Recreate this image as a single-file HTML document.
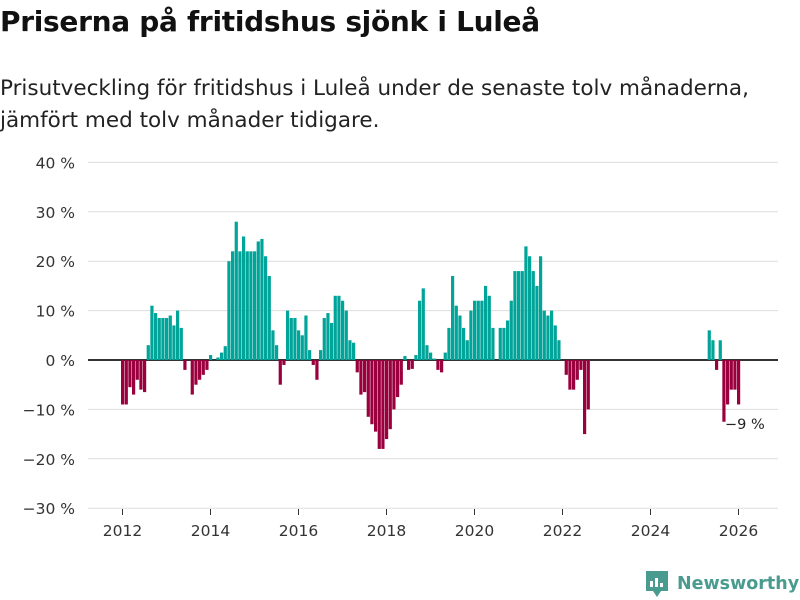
<!DOCTYPE html>
<html><head><meta charset="utf-8"><style>
body{margin:0;width:800px;height:600px;background:#fff;font-family:"DejaVu Sans","Liberation Sans",sans-serif;color:#111;overflow:hidden;position:relative}
#title{position:absolute;left:0;top:5px;font-size:28px;font-weight:bold;letter-spacing:-0.3px}
#sub{position:absolute;left:0;top:73px;font-size:21.5px;line-height:32px;color:#222}
svg{position:absolute;left:0;top:0}
</style></head><body>
<div id="title">Priserna på fritidshus sjönk i Luleå</div>
<div id="sub">Prisutveckling för fritidshus i Luleå under de senaste tolv månaderna,<br>jämfört med tolv månader tidigare.</div>
<svg id="chart" width="800" height="600"></svg>
<script>
const yTicks=[40,30,20,10,0,-10,-20,-30];
const xTicks=[2012,2014,2016,2018,2020,2022,2024,2026];
const seriesA=[-9,-9,-5.5,-7,-4,-6,-6.5,3,11,9.5,8.5,8.5,8.5,9,7,10,6.5,-2,0,-7,-5,-4,-3,-2,1,0,0.5,1.5,2.8,20,22,28,22,25,22,22,22,24,24.5,21,17,6,3,-5,-1,10,8.5,8.5,6,5,9,2,-1,-4,2,8.5,9.5,7.5,13,13,12,10,4,3.5,-2.5,-7,-6.5,-11.5,-13,-14.5,-18,-18,-16,-14,-10,-7.5,-5,0.8,-2,-1.8,1,12,14.5,3,1.5,0.3,-2,-2.5,1.5,6.5,17,11,9,6.5,4,10,12,12,12,15,13,6.5,0,6.5,6.5,8,12,18,18,18,23,21,18,15,21,10,9,10,7,4,0,-3,-6,-6,-4,-2,-15,-10];
const startA=[2012,0];
const seriesB=[6,4,-2,4,-12.5,-9,-6,-6,-9];
const startB=[2025,4];
const NS="http://www.w3.org/2000/svg";
const svg=document.getElementById('chart');
const x=(yr,m)=>121+((yr-2012)*12+m)*44/12;
const y=v=>360-v*4.94;
function el(t,a){const e=document.createElementNS(NS,t);for(const k in a)e.setAttribute(k,a[k]);svg.appendChild(e);return e;}
yTicks.forEach(v=>{
  const g=el('line',{x1:88,x2:778,y1:y(v),y2:y(v),stroke:v===0?'#333':'#ddd','stroke-width':v===0?2:1});
  
  
  const t=el('text',{x:75,y:y(v)+6,'text-anchor':'end','font-size':15.5,fill:'#333'});
  t.textContent=(v<0?'−'+(-v):v)+' %';
  
  
});
xTicks.forEach(yr=>{
  const l=el('line',{x1:x(yr,0)+1.5,x2:x(yr,0)+1.5,y1:509,y2:515,stroke:'#333'});
  
  
  const t=el('text',{x:x(yr,0)+1.5,y:536,'text-anchor':'middle','font-size':15.5,fill:'#333'});
  t.textContent=yr;
  
  
});
function bars(arr,st){
  arr.forEach((v,i)=>{
    if(v===0)return;
    const xx=x(st[0],st[1]+i);
    const r=el('rect',{x:xx,width:3.2,y:Math.min(y(v),y(0)),height:Math.abs(y(v)-y(0)),fill:v>0?'#00a499':'#99003d'});
    
    
  });
}
bars(seriesA,startA);bars(seriesB,startB);
const last=seriesB[seriesB.length-1];
const lb=el('text',{x:725,y:429,'font-size':14.5,fill:'#222'});
lb.textContent='−'+Math.abs(Math.round(last))+' %';


const ic=el('path',{d:'M646 571 h22 v20 h-7 l-4 6 l-4 -6 h-7 z',fill:'#4a9b8f'});


[[650,581,3,6],[655,578,3,9],[660,583,3,4]].forEach(b=>{const r=el('rect',{x:b[0],y:b[1],width:b[2],height:b[3],fill:'#fff'});});
const lt=el('text',{x:677,y:589,'font-size':17.5,'font-weight':'bold',fill:'#4a9b8f'});
lt.textContent='Newsworthy';


</script>
</body></html>
